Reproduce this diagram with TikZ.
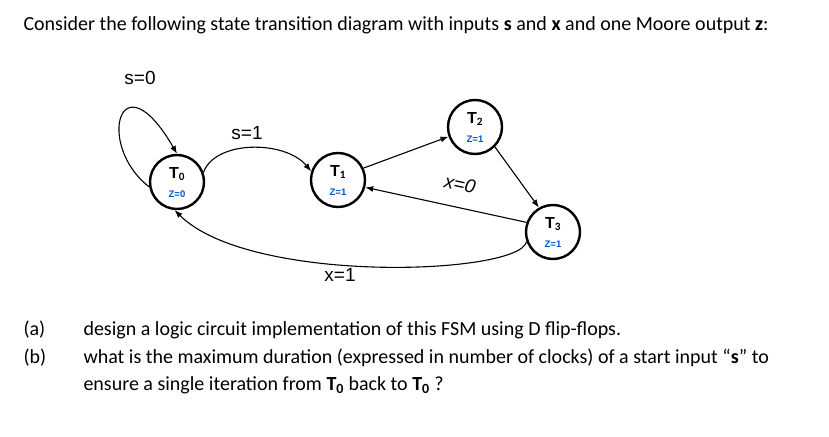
\documentclass[tikz,border=0pt]{standalone}
\usepackage{fontspec}
\setmainfont{Carlito}
\newfontfamily\arialf{Liberation Sans}
\usetikzlibrary{arrows.meta}
\begin{document}
\begin{tikzpicture}[x=1pt,y=-1pt,
  st/.style={circle,draw,line width=2.4pt,minimum size=54pt,inner sep=0pt},
  zl/.style={font=\arialf\bfseries\fontsize{9.5}{10}\selectfont,text=blue!60!cyan!80!black},
  tl/.style={font=\arialf\bfseries\fontsize{16}{17}\selectfont},
  lab/.style={font=\arialf\fontsize{19}{21}\selectfont},
  tr/.style={-{Latex[length=8pt,width=6pt]},line width=1.1pt},
  txt/.style={font=\fontsize{20}{22}\selectfont,anchor=west}]
\useasboundingbox (0,0) rectangle (829,436);
\node[st] (t0) at (177,182) {};
\node[st] (t1) at (338,180) {};
\node[st] (t2) at (475,127) {};
\node[st] (t3) at (553,232) {};
\foreach \n/\i in {t0/0,t1/1,t2/2,t3/3}{
  \node[tl] (\n l) at ([yshift=8pt]\n.center) {T$_{\mathbf{\i}}$};
  \node[zl] (\n z) at ([yshift=-12pt]\n.center) {Z=\ifnum\i=0 0\else 1\fi};
}
\draw[tr] (t0.190) .. controls (95,145) and (120,55) .. (t0.north);
\draw[tr] (t0.20) .. controls (215,140) and (285,140) .. (t1.162);
\draw[tr] (t1.25) -- (t2.200);
\draw[tr] (t2.-45) -- (t3.120);
\draw[tr] (t3.160) -- (t1.-15);
\draw[tr] (t3.200) .. controls (520,275) and (250,285) .. (t0.-95);
\node[lab] (l0) at (140,78) {s=0};
\node[lab] (l1) at (247,133) {s=1};
\node[lab,rotate=-12,font=\arialf\itshape\fontsize{19}{21}\selectfont] (l2) at (460,184) {x=0};
\node[lab] (l3) at (340,275) {x=1};
\node[txt] (h) at (20,25) {Consider the following state transition diagram with inputs \textbf{s} and \textbf{x} and one Moore output \textbf{z}:};
\node[txt] (a) at (20,330) {(a)};
\node[txt] (at) at (80,330) {design a logic circuit implementation of this FSM using D flip-flops.};
\node[txt] (b) at (20,358) {(b)};
\node[txt] (bt) at (80,358) {what is the maximum duration (expressed in number of clocks) of a start input “\textbf{s}” to};
\node[txt] (ct) at (80,385) {ensure a single iteration from \textbf{T\textsubscript{0}} back to \textbf{T\textsubscript{0}} ?};
\end{tikzpicture}
\end{document}
